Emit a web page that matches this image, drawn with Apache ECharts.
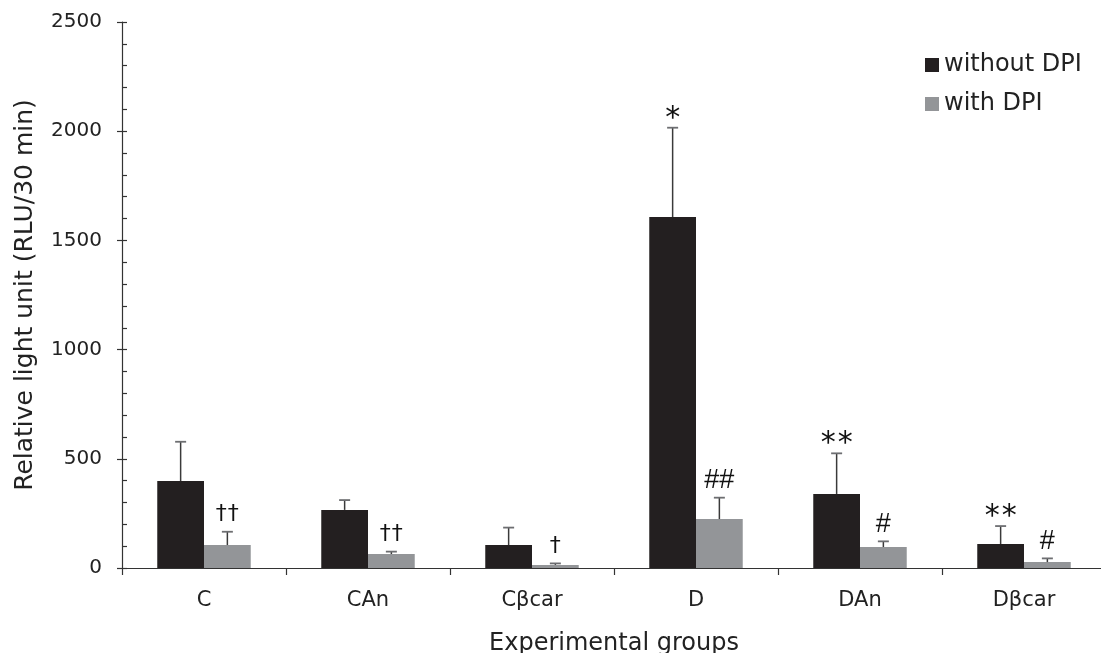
<!DOCTYPE html>
<html>
<head>
<meta charset="utf-8">
<script src="https://cdn.jsdelivr.net/npm/echarts@6/dist/echarts.min.js"></script>
<style>
html,body{margin:0;padding:0;background:#fff;}
#chart{width:1101px;height:653px;}
</style>
</head>
<body>
<div id="chart"></div>
<script>
const categories = ['C', 'CAn', 'Cβcar', 'D', 'DAn', 'Dβcar'];
const withoutDPI = [398, 266, 105, 1607, 339, 110];
const withoutDPIErrTop = [578, 311, 185, 2016, 525, 192];
const withDPI = [105, 64, 14, 224, 96, 27];
const withDPIErrTop = [166, 75, 21, 322, 122, 44];
const withoutDPIMarks = ['', '', '', '*', '**', '**'];
const withDPIMarks = ['††', '††', '†', '##', '#', '#'];
const yTicks = [0, 500, 1000, 1500, 2000, 2500];

const FONT = 'DejaVu Sans, Verdana, sans-serif';
const BLACK = '#231f20';
const GREY = '#939598';

function errData(vals, tops, marks) {
  return vals.map((v, i) => [i, v, tops[i], marks[i]]);
}

function markStyle(mark) {
  if (mark.indexOf('*') >= 0) return { size: 30, dy: -9, spacing: 2, w: 0.5, font: FONT };
  if (mark.indexOf('#') >= 0) return { size: 27, dy: -17, spacing: 0, w: 0.556, font: 'Liberation Sans, Arial, sans-serif' };
  return { size: 22, dy: -17, spacing: 1, w: 0.5, font: FONT };
}

function makeErr(sign) {
  return function (params, api) {
    const i = api.value(0);
    const base = api.coord([i, api.value(1)]);
    const top = api.coord([i, api.value(2)]);
    const band = api.size([1, 0])[0];
    const x = base[0] + sign * band * 0.1425;
    const cap = 5.5;
    const mark = api.value(3);
    const children = [
      { type: 'line', shape: { x1: x, y1: base[1], x2: x, y2: top[1] },
        style: { stroke: '#3a3a3a', lineWidth: 1.5 } },
      { type: 'line', shape: { x1: x - cap, y1: top[1], x2: x + cap, y2: top[1] },
        style: { stroke: '#6d6e71', lineWidth: 1.8 } }
    ];
    if (mark) {
      const ms = markStyle(mark);
      const chars = mark.split('');
      const w = ms.size * ms.w;
      const total = chars.length * w + (chars.length - 1) * ms.spacing;
      chars.forEach((ch, k) => {
        const cx = x - total / 2 + w / 2 + k * (w + ms.spacing);
        children.push({ type: 'text', x: cx, y: top[1] + ms.dy,
          style: { text: ch, fill: '#111', font: ms.size + 'px ' + ms.font, align: 'center', verticalAlign: 'middle' } });
      });
    }
    return { type: 'group', children: children };
  };
}

const chart = echarts.init(document.getElementById('chart'));
chart.setOption({
  animation: false,
  backgroundColor: '#fff',
  textStyle: { fontFamily: FONT },
  legend: {
    orient: 'vertical', left: 920, top: 48,
    itemWidth: 14, itemHeight: 14, itemGap: 15,
    icon: 'rect',
    textStyle: { fontSize: 24, lineHeight: 24, color: '#222', fontFamily: FONT },
    data: ['without DPI', 'with DPI']
  },
  grid: { left: 122, top: 22, width: 984, height: 546, containLabel: false, outerBoundsMode: 'none' },
  xAxis: {
    type: 'category', data: categories,
    axisLine: { lineStyle: { color: '#333', width: 1.2 } },
    axisTick: { show: true, length: 7, interval: 0, lineStyle: { color: '#333', width: 1.2 } },
    axisLabel: { fontSize: 21, color: '#222', margin: 22, fontFamily: FONT },
    name: 'Experimental groups', nameLocation: 'middle', nameGap: 64,
    nameTextStyle: { fontSize: 24, color: '#222', fontFamily: FONT }
  },
  yAxis: [{
    type: 'value', min: yTicks[0], max: yTicks[yTicks.length - 1], interval: 500,
    axisLine: { show: true, lineStyle: { color: '#333', width: 1.2 } },
    axisTick: { show: true, length: 5, lineStyle: { color: '#333', width: 1.2 } },
    splitLine: { show: false },
    axisLabel: { fontSize: 20, color: '#222', margin: 20, fontFamily: FONT,
      formatter: function (v) { return String(v); } },
    name: 'Relative light unit (RLU/30 min)', nameLocation: 'middle', nameGap: 84,
    nameTextStyle: { fontSize: 25, color: '#222', fontFamily: FONT }
  }, {
    type: 'value', min: yTicks[0], max: yTicks[yTicks.length - 1], interval: 500,
    position: 'left',
    axisLine: { show: false },
    axisTick: { show: true, inside: true, length: 5, lineStyle: { color: '#333', width: 1.2 } },
    minorTick: { show: true, splitNumber: 5, length: 5, lineStyle: { color: '#333', width: 1.2 } },
    splitLine: { show: false },
    axisLabel: { show: false }
  }],
  series: [
    { name: 'without DPI', type: 'bar', data: withoutDPI, barWidth: '28.5%', barGap: '0%',
      itemStyle: { color: BLACK } },
    { name: 'with DPI', type: 'bar', data: withDPI, barWidth: '28.5%', barGap: '0%',
      itemStyle: { color: GREY } },
    { type: 'custom', renderItem: makeErr(-1), data: errData(withoutDPI, withoutDPIErrTop, withoutDPIMarks),
      encode: { x: 0, y: [1, 2] }, z: 5, silent: true },
    { type: 'custom', renderItem: makeErr(1), data: errData(withDPI, withDPIErrTop, withDPIMarks),
      encode: { x: 0, y: [1, 2] }, z: 5, silent: true }
  ]
});
</script>
</body>
</html>
